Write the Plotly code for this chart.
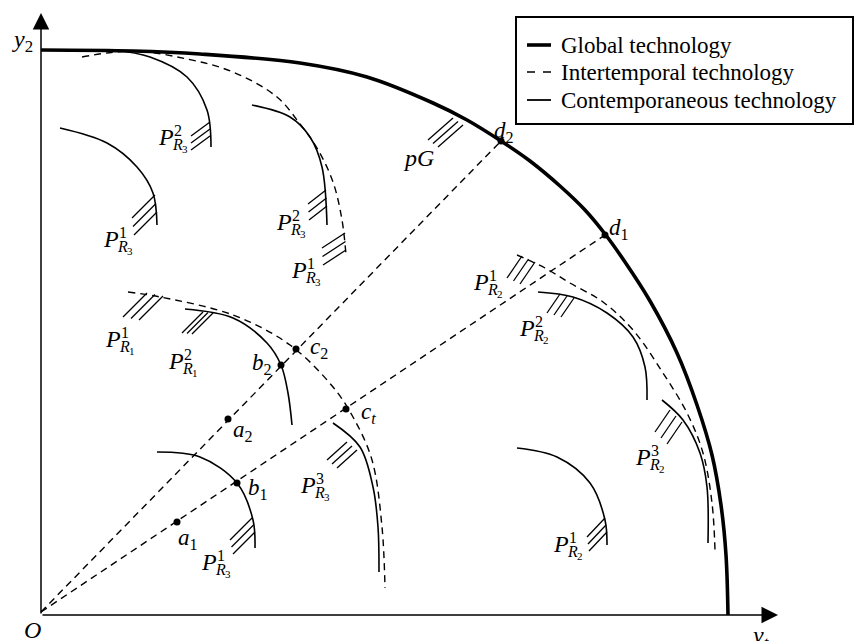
import plotly.graph_objects as go

FONT = "Liberation Serif, Times New Roman, Times, serif"
INK = "black"

# ---- frontiers in (y1, y2) output space ----
GLOBAL_X = [0, 92, 159, 259, 326, 392, 426, 460, 489, 519, 544, 564, 584, 609, 636, 656, 671, 680, 685, 687]
GLOBAL_Y = [565, 564, 561, 552, 538, 512, 495, 474, 454, 429, 405, 381, 353, 314, 262, 210, 160, 110, 60, 0]

# intertemporal frontiers (envelopes of the contemporaneous ones)
INTER_R3_X = [41, 92, 146, 192, 236, 259, 276, 292, 301, 305]
INTER_R3_Y = [558, 564, 556, 543, 518, 491, 467, 433, 395, 360]
INTER_R1_X = [87, 119, 192, 249, 292, 312, 331, 341, 344]
INTER_R1_Y = [323, 318, 300, 270, 228, 198, 155, 88, 27]
INTER_R2_X = [476, 504, 529, 562, 592, 622, 646, 662, 671, 674]
INTER_R2_Y = [360, 347, 332, 313, 285, 242, 202, 162, 112, 65]

# contemporaneous frontiers
C_R3_2A_X = [72, 109, 146, 166, 170]
C_R3_2A_Y = [565, 558, 538, 505, 468]
C_R3_1A_X = [19, 66, 96, 112, 116]
C_R3_1A_Y = [487, 472, 448, 422, 390]
C_R3_2B_X = [211, 249, 269, 281, 286]
C_R3_2B_Y = [510, 498, 478, 448, 390]
C_R1_2_X = [144, 192, 226, 240, 247, 251]
C_R1_2_Y = [306, 297, 272, 250, 222, 190]
C_R3_1B_X = [116, 159, 196, 212, 214]
C_R3_1B_Y = [163, 158, 132, 95, 67]
C_R3_3_X = [292, 319, 332, 337, 338]
C_R3_3_Y = [192, 168, 128, 88, 43]
C_R2_2_X = [497, 532, 566, 592, 604, 606]
C_R2_2_Y = [323, 318, 302, 278, 248, 215]
C_R2_3_X = [621, 642, 659, 666, 667]
C_R2_3_Y = [215, 195, 162, 128, 72]
C_R2_1_X = [476, 516, 549, 564, 566]
C_R2_1_Y = [167, 158, 132, 95, 70]

CONTEMP = [
    (C_R3_2A_X, C_R3_2A_Y), (C_R3_1A_X, C_R3_1A_Y), (C_R3_2B_X, C_R3_2B_Y),
    (C_R1_2_X, C_R1_2_Y), (C_R3_1B_X, C_R3_1B_Y), (C_R3_3_X, C_R3_3_Y),
    (C_R2_2_X, C_R2_2_Y), (C_R2_3_X, C_R2_3_Y), (C_R2_1_X, C_R2_1_Y),
]
INTER = [(INTER_R3_X, INTER_R3_Y), (INTER_R1_X, INTER_R1_Y), (INTER_R2_X, INTER_R2_Y)]

# observed / projected points
POINT_NAMES = ["a|1", "b|1", "c|t", "d|1", "a|2", "b|2", "c|2", "d|2"]
POINT_X = [136, 196, 305, 564, 187, 240, 255, 460]
POINT_Y = [93, 132, 206, 380, 196, 250, 266, 474]
POINT_LABEL_DX = [11, 21, 22, 14, 15, -19, 23, 3]
POINT_LABEL_DY = [-17, -6, -4, 6, -12, 1, 1, 9]

RAY_ORIGIN = (0, 3)
RAY_END_NAMES = ["d|1", "d|2"]

# hatch groups: end of first stroke, step between strokes, stroke vector
HATCH_X = [412, 169, 114, 285, 304, 481, 519, 629, 564, 106, 162, 211, 306]
HATCH_Y = [497, 493, 420, 425, 382, 359, 321, 205, 97, 322, 303, 97, 173]
HATCH_STEP = [(5, -3.5), (0, -7), (1, -8.5), (0.5, -8), (0.5, -8.5), (6.5, -3), (7, -2),
              (6, -6), (1, -7), (8, -1.5), (5, -0.5), (1.5, -7), (5, -4)]
HATCH_DIR = [(-25, -22), (-19, -14), (-23, -23), (-18, -14), (-23, -15), (-15, -22), (-13, -19),
             (-15, -22), (-18, -19), (-24, -24), (-21, -21), (-22, -22), (-20, -18)]

# production-set labels P^sup_{R_sub}
PLABEL_X = [125, 70, 243, 258, 440, 486, 602, 520, 72, 135, 168, 267]
PLABEL_Y = [478, 376, 393, 345, 333, 287, 158, 71, 276, 254, 53, 130]
PLABEL_SUP = ["2", "1", "2", "1", "1", "2", "3", "1", "1", "2", "1", "3"]
PLABEL_SUB = ["3", "3", "3", "3", "2", "2", "2", "2", "1", "1", "3", "3"]

LEGEND_NAMES = ["Global technology", "Intertemporal technology", "Contemporaneous technology"]

fig = go.Figure()

def curve(xs, ys, width, dash="solid"):
    fig.add_trace(go.Scatter(x=xs, y=ys, mode="lines", showlegend=False, hoverinfo="skip",
                             line=dict(color=INK, width=width, dash=dash, shape="spline")))

curve(GLOBAL_X, GLOBAL_Y, 3.6)
for xs, ys in INTER:
    curve(xs, ys, 1.4, "7px,5px")
for xs, ys in CONTEMP:
    curve(xs, ys, 1.6)

# rays from the origin through the d points
for nm in RAY_END_NAMES:
    i = POINT_NAMES.index(nm)
    fig.add_trace(go.Scatter(x=[RAY_ORIGIN[0], POINT_X[i]], y=[RAY_ORIGIN[1], POINT_Y[i]],
                             mode="lines", showlegend=False, hoverinfo="skip",
                             line=dict(color=INK, width=1.4, dash="7px,5px")))

# hatching
hx, hy = [], []
for x0, y0, (sx, sy), (vx, vy) in zip(HATCH_X, HATCH_Y, HATCH_STEP, HATCH_DIR):
    for k in range(3):
        ex, ey = x0 + k * sx, y0 + k * sy
        hx += [ex, ex + vx, None]
        hy += [ey, ey + vy, None]
fig.add_trace(go.Scatter(x=hx, y=hy, mode="lines", showlegend=False, hoverinfo="skip",
                         line=dict(color=INK, width=1.3)))

fig.add_trace(go.Scatter(x=POINT_X, y=POINT_Y, mode="markers", showlegend=False, hoverinfo="skip",
                         marker=dict(color=INK, size=7)))

ann = []

def text(x, y, s, size, dx=0, dy=0, anchor="center"):
    ann.append(dict(x=x, y=y, xref="x", yref="y", text=s, showarrow=False,
                    xanchor=anchor, yanchor="middle", xshift=dx, yshift=dy,
                    font=dict(family=FONT, size=size, color=INK)))

for nm, x, y, dx, dy in zip(POINT_NAMES, POINT_X, POINT_Y, POINT_LABEL_DX, POINT_LABEL_DY):
    letter, sub = nm.split("|")
    sub_html = "<i>t</i>" if sub == "t" else sub
    text(x + dx, y + dy, f"<i>{letter}</i><sub>{sub_html}</sub>", 23)

for x, y, sp, sb in zip(PLABEL_X, PLABEL_Y, PLABEL_SUP, PLABEL_SUB):
    text(x, y, "<i>P</i>", 24)
    text(x, y, sp, 16, dx=12, dy=7)
    text(x, y, "<i>R</i>", 16, dx=11, dy=-7)
    text(x, y, sb, 11, dx=19, dy=-12)

text(377, 457, "<i>pG</i>", 24)
text(-19, 574, "<i>y</i><sub>2</sub>", 24)
text(-9, -15, "<i>O</i>", 24)
text(719, -22, "<i>y</i><sub><i>t</i></sub>", 24)

# axes with arrowheads
for tip in [(0, 602), (737, 0)]:
    ann.append(dict(x=tip[0], y=tip[1], ax=0, ay=0, xref="x", yref="y", axref="x", ayref="y",
                    text="", showarrow=True, arrowhead=2, arrowsize=2.2, arrowwidth=1.5,
                    arrowcolor=INK, standoff=0))

# legend box
LEG_X0, LEG_X1, LEG_Y0, LEG_Y1 = 475, 812, 491, 598
LEG_ROWS = [570, 543, 515]
shapes = [dict(type="rect", xref="x", yref="y", x0=LEG_X0, x1=LEG_X1, y0=LEG_Y0, y1=LEG_Y1,
               line=dict(color=INK, width=2), fillcolor="white", layer="above")]
styles = [(3.6, "solid"), (1.4, "8px,8px"), (1.8, "solid")]
for name, yr, (w, d) in zip(LEGEND_NAMES, LEG_ROWS, styles):
    shapes.append(dict(type="line", xref="x", yref="y", x0=486, x1=510, y0=yr, y1=yr,
                       line=dict(color=INK, width=w, dash=d), layer="above"))
    text(518, yr, name, 23, anchor="left")

fig.update_layout(
    width=855, height=641, margin=dict(l=0, r=0, t=0, b=0),
    paper_bgcolor="white", plot_bgcolor="white",
    font=dict(family=FONT),
    xaxis=dict(range=[-41, 814], visible=False, fixedrange=True),
    yaxis=dict(range=[-26, 615], visible=False, fixedrange=True),
    annotations=ann, shapes=shapes,
)

fig.write_html("out.html")
